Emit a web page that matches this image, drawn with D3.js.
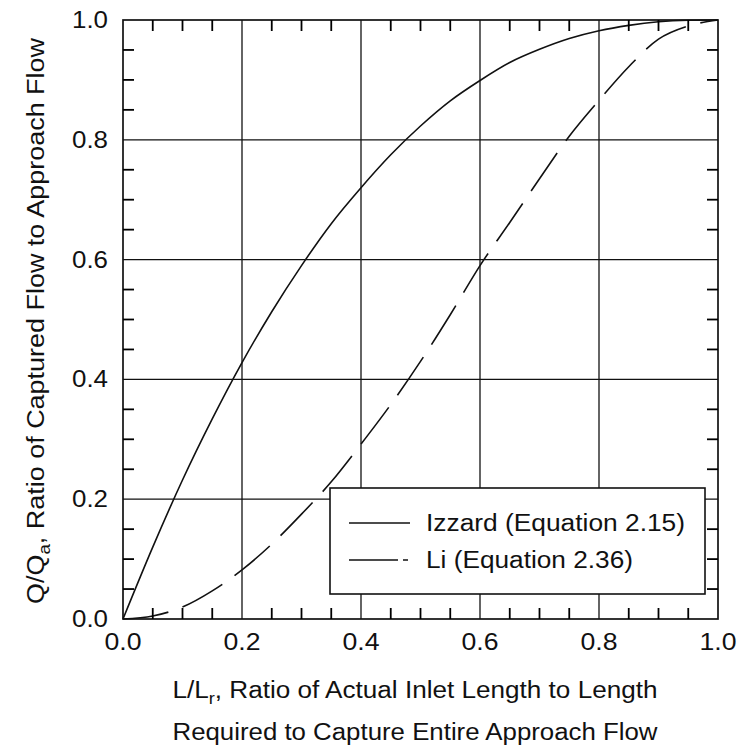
<!DOCTYPE html>
<html>
<head>
<meta charset="utf-8">
<script src="https://cdn.jsdelivr.net/npm/d3@7"></script>
<style>
  html, body { margin: 0; padding: 0; background: #fff; }
  svg { display: block; }
  text { font-family: "Liberation Sans", Arial, Helvetica, sans-serif; fill: #111; }
</style>
</head>
<body>
<svg id="chart" width="738" height="755"></svg>
<script>
// Length ratio L/Lr sampled every 0.05
const lengthRatio = [0, 0.05, 0.10, 0.15, 0.20, 0.25, 0.30, 0.35, 0.40, 0.45, 0.50,
                     0.55, 0.60, 0.65, 0.70, 0.75, 0.80, 0.85, 0.90, 0.95, 1.00];
// Izzard (Equation 2.15)
const izzard = [0, 0.120, 0.232, 0.334, 0.428, 0.513, 0.590, 0.660, 0.720, 0.775, 0.823,
                0.865, 0.899, 0.929, 0.951, 0.969, 0.982, 0.991, 0.997, 0.9995, 1.0];
// Li (Equation 2.36)
const li = [0, 0.005, 0.020, 0.047, 0.082, 0.125, 0.175, 0.229, 0.292, 0.358, 0.430,
            0.508, 0.590, 0.662, 0.735, 0.806, 0.866, 0.922, 0.968, 0.990, 1.0];
const majorTicks = [0, 0.2, 0.4, 0.6, 0.8, 1.0];
const minorTicks = [0.05, 0.10, 0.15, 0.25, 0.30, 0.35, 0.45, 0.50, 0.55,
                    0.65, 0.70, 0.75, 0.85, 0.90, 0.95];
const tickLabels = ["0.0", "0.2", "0.4", "0.6", "0.8", "1.0"];
const seriesNames = ["Izzard (Equation 2.15)", "Li (Equation 2.36)"];

const svg = d3.select("#chart");
const margin = { left: 123, top: 20, right: 20, bottom: 136 };
const W = 738, H = 755;
const pw = W - margin.left - margin.right;   // 595
const ph = H - margin.top - margin.bottom;   // 599

const x = d3.scaleLinear().domain([0, 1]).range([margin.left, margin.left + pw]);
const y = d3.scaleLinear().domain([0, 1]).range([margin.top + ph, margin.top]);

// grid lines at the major values
svg.append("g").selectAll("line").data(majorTicks.slice(1, -1)).join("line")
  .attr("x1", d => x(d)).attr("x2", d => x(d))
  .attr("y1", y(0)).attr("y2", y(1))
  .attr("stroke", "#111").attr("stroke-width", 1.3);
svg.append("g").selectAll("line").data(majorTicks.slice(1, -1)).join("line")
  .attr("y1", d => y(d)).attr("y2", d => y(d))
  .attr("x1", x(0)).attr("x2", x(1))
  .attr("stroke", "#111").attr("stroke-width", 1.3);

// frame
svg.append("rect")
  .attr("x", x(0)).attr("y", y(1)).attr("width", pw).attr("height", ph)
  .attr("fill", "none").attr("stroke", "#111").attr("stroke-width", 1.7);

// tick labels
svg.append("g").selectAll("text").data(majorTicks).join("text")
  .attr("x", d => x(d)).attr("y", y(0) + 31)
  .attr("text-anchor", "middle")
  .attr("font-size", 23)
  .attr("textLength", 37).attr("lengthAdjust", "spacingAndGlyphs")
  .text((d, i) => tickLabels[i]);
svg.append("g").selectAll("text").data(majorTicks).join("text")
  .attr("x", 108).attr("y", d => y(d) + 8)
  .attr("text-anchor", "end")
  .attr("font-size", 23)
  .attr("textLength", 36).attr("lengthAdjust", "spacingAndGlyphs")
  .text((d, i) => tickLabels[i]);

// curves
const line = d3.line().curve(d3.curveMonotoneX);
const izzPts = lengthRatio.map((v, i) => [x(v), y(izzard[i])]);
const liPts = lengthRatio.map((v, i) => [x(v), y(li[i])]);

// legend box
const lg = svg.append("g");
lg.append("rect")
  .attr("x", 330).attr("y", 488).attr("width", 375).attr("height", 106)
  .attr("fill", "#fff").attr("stroke", "#111").attr("stroke-width", 1.6);

svg.append("path").attr("d", line(izzPts))
  .attr("fill", "none").attr("stroke", "#111").attr("stroke-width", 1.6);
svg.append("path").attr("d", line(liPts))
  .attr("fill", "none").attr("stroke", "#111").attr("stroke-width", 1.6)
  .attr("stroke-dasharray", "46,15");

const legendRows = [
  { name: seriesNames[0], dash: null, yy: 523, len: 259 },
  { name: seriesNames[1], dash: "49,5,5,100", yy: 560, len: 207 }
];
legendRows.forEach(r => {
  lg.append("line")
    .attr("x1", 349).attr("x2", 410).attr("y1", r.yy).attr("y2", r.yy)
    .attr("stroke", "#111").attr("stroke-width", 1.5)
    .attr("stroke-dasharray", r.dash);
  lg.append("text")
    .attr("x", 426).attr("y", r.yy + 8)
    .attr("font-size", 23)
    .attr("textLength", r.len).attr("lengthAdjust", "spacingAndGlyphs")
    .text(r.name);
});

// inward minor ticks on all four sides, drawn last
const tl = 11;
const sides = [
  { cls: "tb", x1: d => x(d), x2: d => x(d), y1: () => y(0), y2: () => y(0) - tl },
  { cls: "tt", x1: d => x(d), x2: d => x(d), y1: () => y(1), y2: () => y(1) + tl },
  { cls: "tl", x1: () => x(0), x2: () => x(0) + tl, y1: d => y(d), y2: d => y(d) },
  { cls: "tr", x1: () => x(1), x2: () => x(1) - tl, y1: d => y(d), y2: d => y(d) }
];
sides.forEach(s => {
  svg.selectAll("line." + s.cls).data(minorTicks).join("line").attr("class", s.cls)
    .attr("x1", s.x1).attr("x2", s.x2).attr("y1", s.y1).attr("y2", s.y2)
    .attr("stroke", "#000").attr("stroke-width", 1.8);
});

// axis titles
const xt = svg.append("text")
  .attr("x", 415).attr("y", 698)
  .attr("text-anchor", "middle").attr("font-size", 23)
  .attr("textLength", 485).attr("lengthAdjust", "spacingAndGlyphs");
xt.append("tspan").text("L/L");
xt.append("tspan").attr("font-size", 16).attr("dy", 6).text("r");
xt.append("tspan").attr("dy", -6).text(", Ratio of Actual Inlet Length to Length");

svg.append("text")
  .attr("x", 415).attr("y", 740)
  .attr("text-anchor", "middle").attr("font-size", 23)
  .attr("textLength", 485).attr("lengthAdjust", "spacingAndGlyphs")
  .text("Required to Capture Entire Approach Flow");

const yt = svg.append("text")
  .attr("transform", `translate(44,${(38 + 604) / 2}) rotate(-90)`)
  .attr("text-anchor", "middle").attr("font-size", 23)
  .attr("textLength", 566).attr("lengthAdjust", "spacingAndGlyphs");
yt.append("tspan").text("Q/Q");
yt.append("tspan").attr("font-size", 16).attr("dy", 6).text("a");
yt.append("tspan").attr("dy", -6).text(", Ratio of Captured Flow to Approach Flow");
</script>
</body>
</html>
